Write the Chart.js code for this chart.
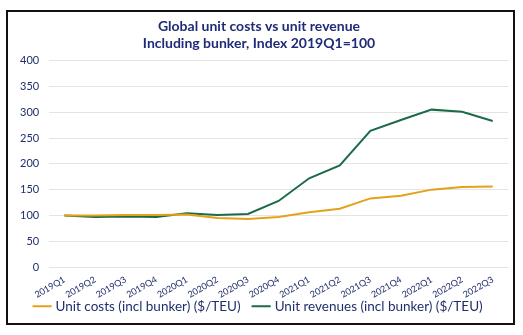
<!DOCTYPE html>
<html>
<head>
<meta charset="utf-8">
<script src="https://cdn.jsdelivr.net/npm/chart.js@4"></script>
<style>
  body { margin: 0; background: #fff; }
  #box {
    position: absolute; left: 6px; top: 10px;
    width: 505px; height: 311px;
    border: 2px solid #111;
  }
</style>
</head>
<body>
<div id="box"><canvas id="chart" width="505" height="311"></canvas></div>
<script>
"use strict";

const quarters = [
  "2019Q1", "2019Q2", "2019Q3", "2019Q4",
  "2020Q1", "2020Q2", "2020Q3", "2020Q4",
  "2021Q1", "2021Q2", "2021Q3", "2021Q4",
  "2022Q1", "2022Q2", "2022Q3",
];
const unitCosts = [100, 100, 101, 101, 102, 95, 93, 97, 106, 113, 133, 138, 150, 155, 156];
const unitRevenues = [100, 97, 98, 97, 104, 101, 103, 128, 172, 197, 264, 285, 305, 301, 283];
const yTicks = [0, 50, 100, 150, 200, 250, 300, 350, 400];

const navy = "#1f2f6b";
const fontFamily = "Lato, 'Open Sans', sans-serif";

new Chart(document.getElementById("chart"), {
  type: "line",
  data: {
    labels: quarters,
    datasets: [
      {
        label: "Unit costs (incl bunker) ($/TEU)",
        data: unitCosts,
        borderColor: "#e3a21a",
        backgroundColor: "#e3a21a",
        borderWidth: 2,
        pointRadius: 0,
        tension: 0,
      },
      {
        label: "Unit revenues (incl bunker) ($/TEU)",
        data: unitRevenues,
        borderColor: "#1c6b48",
        backgroundColor: "#1c6b48",
        borderWidth: 2,
        pointRadius: 0,
        tension: 0,
      },
    ],
  },
  options: {
    responsive: false,
    animation: false,
    layout: { padding: { left: 2, right: 5, top: 0, bottom: 0 } },
    scales: {
      x: {
        offset: true,
        grid: { display: false },
        border: { display: false },
        ticks: {
          color: navy,
          font: { family: fontFamily, size: 9, lineHeight: 1 },
          maxRotation: 30,
          minRotation: 30,
          autoSkip: false,
          padding: 0,
        },
      },
      y: {
        min: 0,
        max: 400,
        afterBuildTicks: (axis) => {
          axis.ticks = yTicks.map((v) => ({ value: v }));
        },
        grid: { color: "#e4e4e4", lineWidth: 1, drawTicks: false },
        border: { display: false },
        ticks: {
          color: navy,
          font: { family: fontFamily, size: 11 },
          padding: 10,
        },
      },
    },
    plugins: {
      title: {
        display: true,
        text: ["Global unit costs vs unit revenue", "Including bunker, Index 2019Q1=100"],
        color: "#1f2a78",
        font: { family: fontFamily, size: 14, weight: "bold" },
        padding: { top: 6, bottom: 9 },
      },
      legend: {
        position: "bottom",
        labels: {
          color: navy,
          font: { family: fontFamily, size: 13.5 },
          usePointStyle: true,
          pointStyle: "line",
          boxWidth: 14,
          padding: 0,
          // gap between the two entries
          generateLabels: (chart) => {
            const items = Chart.defaults.plugins.legend.labels.generateLabels(chart);
            items[0].text += "    ";
            return items;
          },
        },
      },
      tooltip: { enabled: false },
    },
  },
});
</script>
</body>
</html>
